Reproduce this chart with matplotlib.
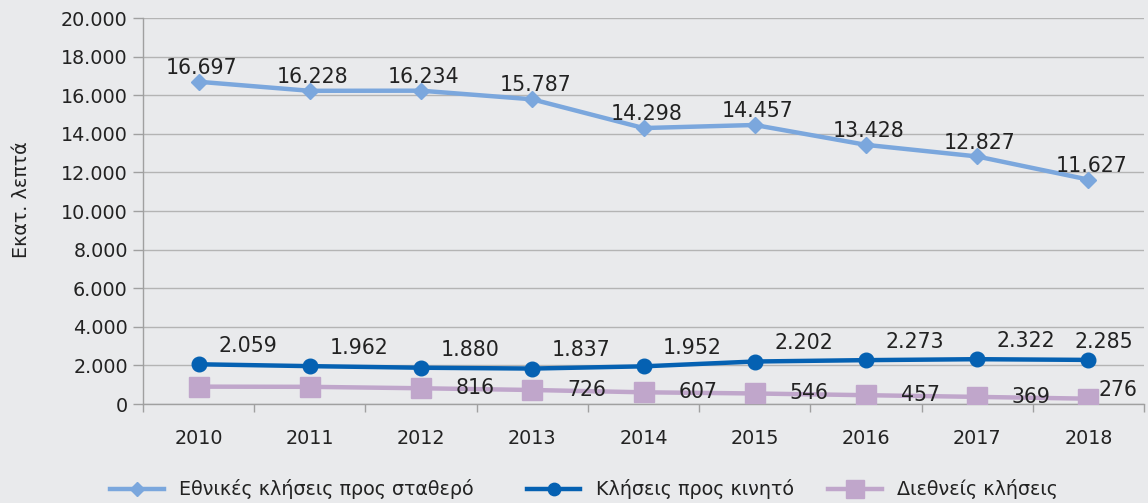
import matplotlib
matplotlib.use("Agg")
import matplotlib.pyplot as plt
from matplotlib.ticker import FuncFormatter, MultipleLocator

years = ["2010", "2011", "2012", "2013", "2014", "2015", "2016", "2017", "2018"]
fixed = [16697, 16228, 16234, 15787, 14298, 14457, 13428, 12827, 11627]
mobile = [2059, 1962, 1880, 1837, 1952, 2202, 2273, 2322, 2285]
intl = [900, 890, 816, 726, 607, 546, 457, 369, 276]
intl_labeled = [False, False, True, True, True, True, True, True, True]

names = ["Εθνικές κλήσεις προς σταθερό", "Κλήσεις προς κινητό", "Διεθνείς κλήσεις"]
c_fixed = "#7ba7dd"
c_mobile = "#0561b2"
c_intl = "#c0a6cb"
bg = "#e9eaec"
grid_c = "#b4b4b4"
txt = "#222222"

plt.rcParams["font.family"] = ["DejaVu Sans"]

fig = plt.figure(figsize=(11.48, 5.03), dpi=100, facecolor=bg)
ax = fig.add_axes([0.1246, 0.1968, 0.8719, 0.7674], facecolor=bg)

x = list(range(len(years)))
l1, = ax.plot(x, fixed, color=c_fixed, lw=3.2, marker="D", ms=8, label=names[0], zorder=3)
l2, = ax.plot(x, mobile, color=c_mobile, lw=3.2, marker="o", ms=10.5, label=names[1], zorder=3)
l3, = ax.plot(x, intl, color=c_intl, lw=3.2, marker="s", ms=14.5, label=names[2], zorder=3)

def fmt(v):
    return f"{v:,.0f}".replace(",", ".")

fs_tick = 13.8
fs_lab = 14.8
n = len(years)
for i in x:
    ax.annotate(fmt(fixed[i]), (i, fixed[i]), xytext=(2, 10), textcoords="offset points",
                ha="center", va="center", fontsize=fs_lab, color=txt, zorder=5)
    dx = 14 if i < n - 1 else -10
    ax.annotate(fmt(mobile[i]), (i, mobile[i]), xytext=(dx, 13), textcoords="offset points",
                ha="left", va="center", fontsize=fs_lab, color=txt, zorder=5)
    if intl_labeled[i]:
        dx = 25 if i < n - 1 else 7
        dy = 0 if i < n - 1 else 6
        ax.annotate(fmt(intl[i]), (i, intl[i]), xytext=(dx, dy), textcoords="offset points",
                    ha="left", va="center", fontsize=fs_lab, color=txt, zorder=5)

ax.set_xlim(-0.5, n - 0.5)
ax.set_ylim(0, 20000)
ax.yaxis.set_major_locator(MultipleLocator(2000))
ax.yaxis.set_major_formatter(FuncFormatter(lambda v, p: fmt(v)))
ax.set_xticks(x)
ax.set_xticklabels(years)
ax.set_xticks([i - 0.5 for i in range(n + 1)], minor=True)
ax.tick_params(axis="x", which="major", length=0, pad=18, labelsize=fs_tick, colors=txt)
ax.tick_params(axis="x", which="minor", length=6, width=1, color="#a0a0a0")
ax.tick_params(axis="y", length=7, width=1, color="#a0a0a0", labelsize=fs_tick, labelcolor=txt, pad=4)
ax.grid(axis="y", color=grid_c, lw=1, zorder=0)
for s in ["top", "right"]:
    ax.spines[s].set_visible(False)
for s in ["left", "bottom"]:
    ax.spines[s].set_color("#a0a0a0")
    ax.spines[s].set_linewidth(1)
ax.set_ylabel("Εκατ. λεπτά", fontsize=fs_tick, color=txt)
ax.yaxis.set_label_coords(-0.112, 0.53)

# legend entries placed individually (left edges in figure fraction)
leg_x = [0.0925, 0.4555, 0.718]
for h, name, lx in zip([l1, l2, l3], names, leg_x):
    lg = fig.legend([h], [name], loc="center left", bbox_to_anchor=(lx, 0.027),
                    frameon=False, fontsize=fs_tick, handlelength=2.8,
                    handletextpad=0.8, borderaxespad=0, borderpad=0.2, markerscale=0.85)
    for t in lg.get_texts():
        t.set_color(txt)

fig.savefig("out.png", dpi=100, facecolor=bg)
